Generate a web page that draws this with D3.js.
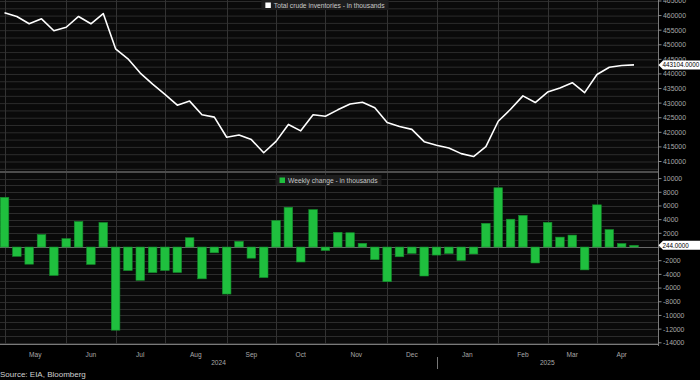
<!DOCTYPE html>
<html><head><meta charset="utf-8">
<script src="https://cdn.jsdelivr.net/npm/d3@7"></script>
<style>
html,body{margin:0;padding:0;background:#000;}
svg{display:block;font-family:"Liberation Sans",Arial,sans-serif;}
</style></head>
<body>
<svg id="chart" width="700" height="380"></svg>
<script>
// ---------- DATA ----------
const dates = [
 "2024-05-03","2024-05-10","2024-05-17","2024-05-24","2024-05-31",
 "2024-06-07","2024-06-14","2024-06-21","2024-06-28",
 "2024-07-05","2024-07-12","2024-07-19","2024-07-26",
 "2024-08-02","2024-08-09","2024-08-16","2024-08-23","2024-08-30",
 "2024-09-06","2024-09-13","2024-09-20","2024-09-27",
 "2024-10-04","2024-10-11","2024-10-18","2024-10-25",
 "2024-11-01","2024-11-08","2024-11-15","2024-11-22","2024-11-29",
 "2024-12-06","2024-12-13","2024-12-20","2024-12-27",
 "2025-01-03","2025-01-10","2025-01-17","2025-01-24","2025-01-31",
 "2025-02-07","2025-02-14","2025-02-21","2025-02-28",
 "2025-03-07","2025-03-14","2025-03-21","2025-03-28",
 "2025-04-04","2025-04-11","2025-04-18","2025-04-25"
];
const inventories = [
 461000,459700,457200,458900,454800,456000,459700,457200,460700,448600,
 445200,440300,436500,433000,429300,430700,426000,425200,418300,419100,
 417500,413000,416900,422700,420500,426000,425500,427700,429700,430300,
 428400,423400,422000,421000,416800,415600,414600,412700,411700,415100,
 423800,427900,432500,430200,433800,435200,437000,433600,439800,442300,
 442900,443104
];
const weeklyChange = [
 7265,-1362,-2508,1825,-4156,1233,3730,-2547,3591,-12157,
 -3443,-4870,-3741,-3436,-3728,1357,-4649,-846,-6873,833,
 -1630,-4471,3889,5810,-2191,5474,-515,2149,2089,545,
 -1844,-5073,-1425,-934,-4237,-1178,-959,-1962,-1017,3463,
 8664,4070,4633,-2332,3614,1448,1745,-3341,6165,2553,
 515,244
];
const monthStarts = ["2024-05-03","2024-06-07","2024-07-05","2024-08-02","2024-09-06","2024-10-04",
 "2024-11-01","2024-12-06","2025-01-03","2025-02-07","2025-03-07","2025-04-04","2025-05-02"];
const monthLabels = ["May","Jun","Jul","Aug","Sep","Oct","Nov","Dec","Jan","Feb","Mar","Apr"];
const yearLabels = [{label:"2024", from:"2024-05-03", to:"2025-01-03"},{label:"2025", from:"2025-01-03", to:"2025-05-16"}];
const topTicks = [410000,415000,420000,425000,430000,435000,440000,445000,450000,455000,460000,465000];
const topGrid = d3.range(407500, 465001, 2500);
const bottomTicks = [-14000,-12000,-10000,-8000,-6000,-4000,-2000,0,2000,4000,6000,8000,10000];
const bottomGrid = d3.range(-14000, 10001, 1000);
const topLegend = "Total crude inventories - in thousands";
const bottomLegend = "Weekly change - in thousands";
const sourceText = "Source: EIA, Bloomberg";

// ---------- LAYOUT ----------
const W = 700, H = 380;
const axisX = 658;
const parse = d3.utcParse("%Y-%m-%d");
const dts = dates.map(parse);

const x = d3.scaleUtc().domain([dts[0], dts[dts.length-1]]).range([4.5, 634]);
const yTop = d3.scaleLinear().domain([410000, 465000]).range([161.5, 1]);
const yBot = d3.scaleLinear().domain([-14000, 10000]).range([342.8, 178.6]);

const svg = d3.select("#chart");
svg.append("rect").attr("width", W).attr("height", H).attr("fill", "#000");
svg.append("rect").attr("x",0).attr("y",0).attr("width",axisX).attr("height",345).attr("fill","#0a0a0a");

const gridColor = "#2c2c2c";
svg.append("g").selectAll("line").data(topGrid).join("line")
  .attr("x1",0).attr("x2",axisX).attr("y1",d=>yTop(d)+0.5).attr("y2",d=>yTop(d)+0.5)
  .attr("stroke",gridColor).attr("stroke-width",1);
svg.append("g").selectAll("line").data(bottomGrid).join("line")
  .attr("x1",0).attr("x2",axisX).attr("y1",d=>Math.round(yBot(d))+0.5).attr("y2",d=>Math.round(yBot(d))+0.5)
  .attr("stroke",gridColor).attr("stroke-width",1);
const gridDates = monthStarts.slice(0,-1).map(parse);
svg.append("g").selectAll("line").data(gridDates).join("line")
  .attr("x1",d=>Math.round(x(d))+0.5).attr("x2",d=>Math.round(x(d))+0.5)
  .attr("y1",0).attr("y2",345)
  .attr("stroke","#333").attr("stroke-width",1);

svg.append("line").attr("x1",0).attr("x2",axisX).attr("y1",172).attr("y2",172)
  .attr("stroke","#4d4d4d").attr("stroke-width",2);

svg.append("line").attr("x1",0).attr("x2",axisX)
  .attr("y1",Math.round(yBot(0))+0.5).attr("y2",Math.round(yBot(0))+0.5)
  .attr("stroke","#6a6a6a").attr("stroke-width",1);

const barW = 8.6;
svg.append("g").selectAll("rect").data(weeklyChange).join("rect")
  .attr("x",(d,i)=>x(dts[i])-barW/2)
  .attr("width",barW)
  .attr("y",d=>yBot(Math.max(0,d)))
  .attr("height",d=>Math.abs(yBot(d)-yBot(0)))
  .attr("fill","#1fbf3e").attr("stroke","#138a2a").attr("stroke-width",0.6);

const line = d3.line().x((d,i)=>x(dts[i])).y(d=>yTop(d));
svg.append("path").datum(inventories).attr("d",line)
  .attr("fill","none").attr("stroke","#fff").attr("stroke-width",1.6).attr("stroke-linejoin","round");

svg.append("line").attr("x1",axisX+0.5).attr("x2",axisX+0.5).attr("y1",0).attr("y2",346)
  .attr("stroke","#7a7a7a").attr("stroke-width",1);
svg.append("line").attr("x1",0).attr("x2",axisX).attr("y1",344.5).attr("y2",344.5)
  .attr("stroke","#7a7a7a").attr("stroke-width",1);

const labelColor = "#a8a8a8";
function yAxis(scale, ticks, hidden){
  const g = svg.append("g");
  g.selectAll("line").data(ticks).join("line")
    .attr("x1",axisX).attr("x2",axisX+3.5)
    .attr("y1",d=>scale(d)).attr("y2",d=>scale(d))
    .attr("stroke","#8a8a8a").attr("stroke-width",1);
  g.selectAll("text").data(ticks.filter(t=>!hidden.includes(t))).join("text")
    .attr("x",axisX+5).attr("y",d=>scale(d)).attr("dy","0.35em")
    .attr("font-size",6.9).attr("fill",labelColor).text(d=>d);
}
// the 0 label of the lower axis sits under the last-value tag, as in the original
yAxis(yTop, topTicks, []);
yAxis(yBot, bottomTicks, [0]);

const msd = monthStarts.map(parse);
svg.append("g").selectAll("text").data(monthLabels).join("text")
  .attr("x",(d,i)=>(x(msd[i])+x(msd[i+1]))/2).attr("y",356.5)
  .attr("text-anchor","middle").attr("font-size",6.6).attr("fill",labelColor).text(d=>d);
svg.append("g").selectAll("text").data(yearLabels).join("text")
  .attr("x",d=>(x(parse(d.from))+Math.min(axisX, x(parse(d.to))))/2 - (d.label==="2024"?2:0)).attr("y",364.5)
  .attr("text-anchor","middle").attr("font-size",6.6).attr("fill",labelColor).text(d=>d.label);
const sepX = Math.round(x(parse(yearLabels[1].from)))+0.5;
svg.append("line").attr("x1",sepX).attr("x2",sepX).attr("y1",357).attr("y2",369)
  .attr("stroke","#777").attr("stroke-width",1);

svg.append("text").attr("x",0).attr("y",376.5).attr("font-size",8)
  .attr("fill","#d0d0d0").text(sourceText);

function tag(yv, label){
  const g = svg.append("g");
  const h = 9;
  g.append("path")
    .attr("d",`M${axisX+0.5},${yv} L${axisX+5},${yv-h/2} L${W},${yv-h/2} L${W},${yv+h/2} L${axisX+5},${yv+h/2} Z`)
    .attr("fill","#fff");
  g.append("text").attr("x",axisX+4.5).attr("y",yv).attr("dy","0.36em")
    .attr("font-size",6.3).attr("fill","#000").text(label);
}
tag(yTop(inventories[inventories.length-1]), d3.format(".4f")(inventories[inventories.length-1]));
tag(yBot(weeklyChange[weeklyChange.length-1]), d3.format(".4f")(weeklyChange[weeklyChange.length-1]));

function legend(cx, yTopBox, text, color){
  const g = svg.append("g");
  const rect = g.append("rect").attr("fill","#1d1d1d");
  const t = g.append("text").attr("font-size",6.7).attr("fill","#c8c8c8").text(text);
  const tw = t.node().getComputedTextLength();
  const sw = 5.5, gap = 3, pad = 4;
  const total = pad + sw + gap + tw + pad;
  const x0 = cx - total/2;
  rect.attr("x",x0).attr("y",yTopBox).attr("width",total).attr("height",10);
  g.append("rect").attr("x",x0+pad).attr("y",yTopBox+2.5).attr("width",sw).attr("height",sw).attr("fill",color);
  t.attr("x",x0+pad+sw+gap).attr("y",yTopBox+7.6);
}
legend(325, 0, topLegend, "#ffffff");
legend(328.5, 175, bottomLegend, "#1fbf3e");
</script>
</body></html>
